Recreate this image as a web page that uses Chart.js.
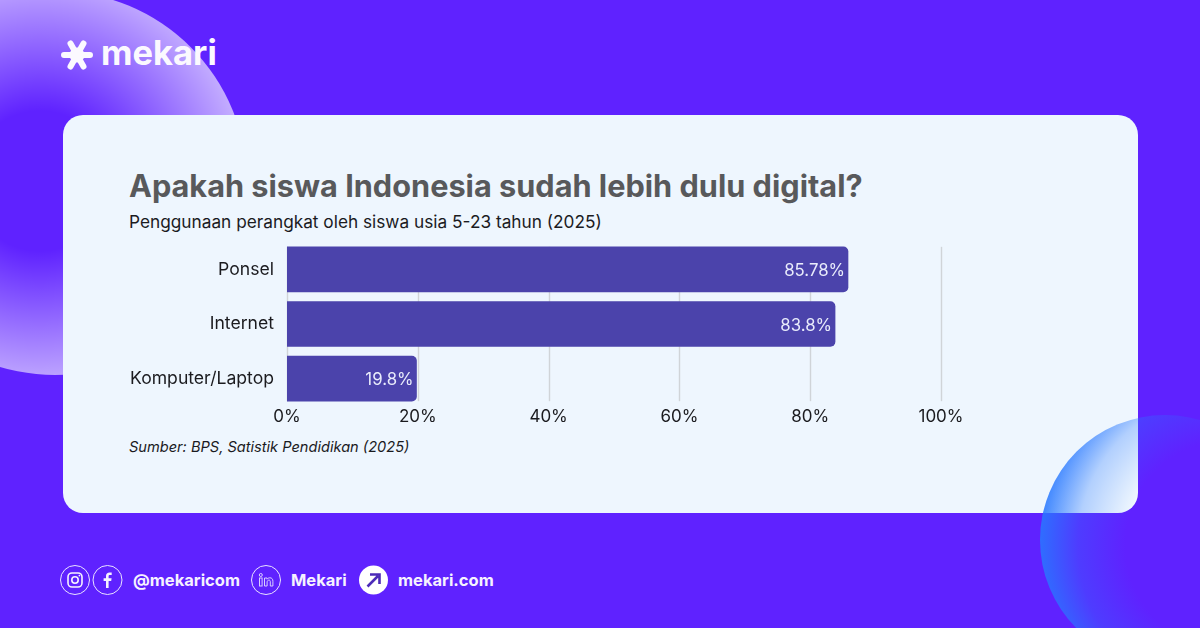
<!DOCTYPE html>
<html>
<head>
<meta charset="utf-8">
<title>Apakah siswa Indonesia sudah lebih dulu digital?</title>
<script src="https://cdn.jsdelivr.net/npm/chart.js@4"></script>
<style>
  html, body { margin: 0; padding: 0; }
  body { width: 1200px; height: 628px; overflow: hidden; position: relative; background: #5f22ff; font-family: Inter, sans-serif; }
  .abs { position: absolute; white-space: nowrap; }
  #blob1 { left: -137px; top: -9px; width: 384px; height: 384px; border-radius: 50%;
    background: radial-gradient(circle 212px at 177px 190px, rgba(255,255,255,0) 33%, rgba(255,255,255,.66) 100%); }
  #card { left: 63px; top: 115px; width: 1075px; height: 398px; border-radius: 20px; background: #eef6fe; }
  #blob2 { left: 1040px; top: 415px; width: 250px; height: 250px; border-radius: 50%;
    background: radial-gradient(circle 190px at 190px 130px, rgba(40,120,255,0) 55%, rgba(40,120,255,.3) 80%, rgba(40,120,255,.88) 100%); }
  #chart { position: absolute; left: 0; top: 0; }
  #title { left: 129px; top: 166px; font-size: 30.7px; line-height: 40px; font-weight: 700; color: #58595b; }
  #sub { left: 129px; top: 211px; font-size: 17.25px; line-height: 22px; color: #1b1b1f; }
  #src { left: 129px; top: 437px; font-size: 14.6px; line-height: 20px; font-style: italic; color: #1b1b1f; }
  #word { left: 101px; top: 31px; font-size: 34.5px; line-height: 44px; font-weight: 700; color: #fbf9ff; }
  .foot { top: 570px; font-size: 16.5px; line-height: 20px; font-weight: 700; color: #f6f2ff; }
  svg { position: absolute; left: 0; top: 0; }
</style>
</head>
<body>
<div class="abs" id="blob1"></div>
<div class="abs" id="card"></div>
<div class="abs" id="blob2"></div>

<svg width="1200" height="628" fill="none">
  <!-- logo star -->
  <g stroke="#fbf9ff" stroke-width="6" stroke-linecap="round">
    <path d="M77 55L70.5 43.5M77 55L83.5 43.5M77 55L90 55M77 55L83.5 66.5M77 55L70.5 66.5M77 55L64 55"/>
  </g>
  <circle cx="77" cy="55" r="7.5" fill="#fbf9ff"/>
  <!-- footer icons -->
  <g stroke="#e9e2ff" stroke-width="1">
    <circle cx="75" cy="580" r="14.5"/>
    <circle cx="107.5" cy="580" r="14.5"/>
    <circle cx="266" cy="580" r="14.5"/>
  </g>
  <g stroke="#f6f2ff" stroke-width="1.6">
    <rect x="68" y="573" width="14" height="14" rx="4"/>
    <circle cx="75" cy="580" r="3.2"/>
  </g>
  <circle cx="79.4" cy="575.6" r="0.9" fill="#f6f2ff"/>
  <path d="M108.6 588v-7h2.6l.4-2.8h-3v-1.8c0-.9.3-1.4 1.5-1.4h1.6v-2.5c-.4-.1-1.2-.1-2.1-.1-2.2 0-3.6 1.3-3.6 3.7v2.1h-2.4v2.8h2.4v7z" fill="#f6f2ff"/>
  <g stroke="#d9ceff" stroke-width="1">
    <rect x="259.5" y="578" width="2.6" height="8"/>
    <circle cx="260.8" cy="575" r="1.5"/>
    <path d="M264.5 586v-8h2.6v1.2c.7-1 1.7-1.4 2.8-1.4 2 0 3 1.3 3 3.5v4.7h-2.6v-4.3c0-1-.4-1.6-1.3-1.6-1 0-1.9.7-1.9 1.9v4z"/>
  </g>
  <circle cx="373.5" cy="580" r="14.5" fill="#ffffff"/>
  <path d="M367.5 586.5L378 576M370 574.5h9.5v9.5" stroke="#4c2bb8" stroke-width="2.6"/>
</svg>

<div class="abs" id="word">mekari</div>
<div class="abs" id="title">Apakah siswa Indonesia sudah lebih dulu digital?</div>
<div class="abs" id="sub">Penggunaan perangkat oleh siswa usia 5-23 tahun (2025)</div>
<div class="abs" id="src">Sumber: BPS, Satistik Pendidikan (2025)</div>
<div class="abs foot" style="left:133px">@mekaricom</div>
<div class="abs foot" style="left:291px">Mekari</div>
<div class="abs foot" style="left:398px">mekari.com</div>

<canvas id="chart" width="1200" height="628"></canvas>

<script>
const categories = ['Ponsel', 'Internet', 'Komputer/Laptop'];
const values = [85.78, 83.8, 19.8];
const valueLabels = ['85.78%', '83.8%', '19.8%'];
const xTicks = [0, 20, 40, 60, 80, 100];

const barColor = '#4b43ab';
const gridColor = '#d0d4d8';

// grid lines only span the bars, not the full band of the y axis
const shortGrid = {
  id: 'shortGrid',
  beforeDatasetsDraw(chart) {
    const ctx = chart.ctx;
    const bars = chart.getDatasetMeta(0).data;
    const top = bars[0].y - bars[0].height / 2;
    const bottom = bars[bars.length - 1].y + bars[bars.length - 1].height / 2;
    ctx.save();
    ctx.strokeStyle = gridColor;
    ctx.lineWidth = 1.4;
    xTicks.forEach(t => {
      const x = Math.round(chart.scales.x.getPixelForValue(t)) + 0.5;
      ctx.beginPath();
      ctx.moveTo(x, top);
      ctx.lineTo(x, bottom);
      ctx.stroke();
    });
    ctx.restore();
  }
};

// value text inside the end of each bar
const barLabels = {
  id: 'barLabels',
  afterDatasetsDraw(chart) {
    const ctx = chart.ctx;
    ctx.save();
    ctx.font = '16.8px Inter';
    ctx.fillStyle = '#e9ecfb';
    ctx.textAlign = 'right';
    ctx.textBaseline = 'middle';
    chart.getDatasetMeta(0).data.forEach((bar, i) => {
      ctx.fillText(valueLabels[i], bar.x - 3, bar.y + 1.5);
    });
    ctx.restore();
  }
};

new Chart(document.getElementById('chart'), {
  type: 'bar',
  data: {
    labels: categories,
    datasets: [{
      data: values,
      backgroundColor: barColor,
      barThickness: 45,
      borderRadius: { topLeft: 0, bottomLeft: 0, topRight: 5, bottomRight: 5 },
      borderSkipped: false
    }]
  },
  plugins: [shortGrid, barLabels],
  options: {
    indexAxis: 'y',
    responsive: false,
    animation: false,
    layout: { padding: { left: 0, top: 242, right: 259, bottom: 0 } },
    plugins: { legend: { display: false }, tooltip: { enabled: false } },
    scales: {
      x: {
        min: 0,
        max: 100,
        afterBuildTicks(axis) { axis.ticks = xTicks.map(v => ({ value: v })); },
        afterFit(axis) { axis.height = 222; },
        grid: { display: false, tickLength: 0 },
        border: { display: false },
        ticks: {
          padding: 1,
          maxRotation: 0,
          color: '#1b1b1f',
          font: { family: 'Inter', size: 17 },
          callback: v => v + '%'
        }
      },
      y: {
        afterFit(axis) { axis.width = 287; },
        grid: { display: false },
        border: { display: false },
        ticks: {
          padding: 5,
          color: '#1b1b1f',
          font: { family: 'Inter', size: 17.6 }
        }
      }
    }
  }
});
</script>
</body>
</html>
